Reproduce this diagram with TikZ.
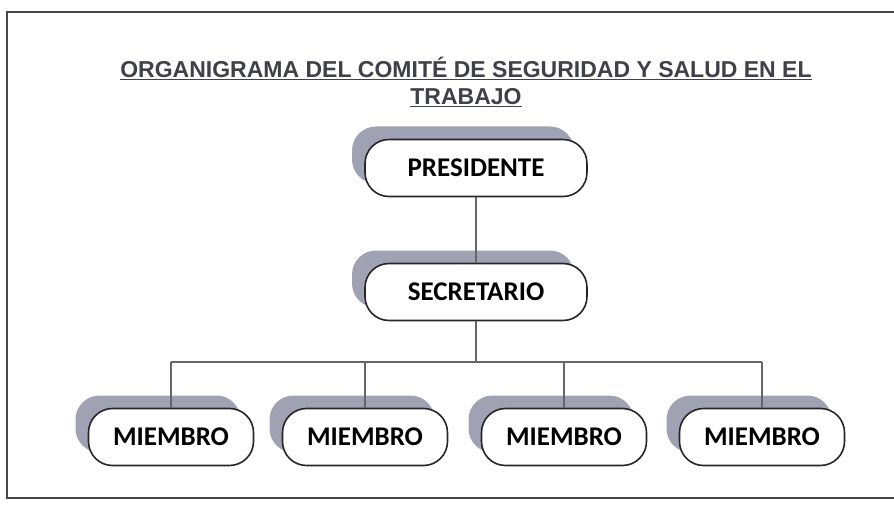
\documentclass[tikz,border=0pt]{standalone}
\usepackage{fontspec}
\setmainfont{Liberation Sans}
\newfontfamily\boxfont{Carlito}
\usetikzlibrary{shadows}
\definecolor{shadegray}{RGB}{160,162,180}
\definecolor{titlegray}{RGB}{64,64,72}
\definecolor{framegray}{RGB}{70,70,75}
\tikzset{
  orgbox/.style={draw=black!85, line width=1.6pt, fill=white, rounded corners=24pt,
    minimum height=57pt, minimum width=165pt, inner sep=0pt,
    font=\boxfont\fontsize{27}{30}\selectfont\bfseries,
    drop shadow={shadow xshift=-13pt, shadow yshift=13pt, fill=shadegray, opacity=1}},
  link/.style={draw=black!60, line width=1.2pt}
}
\begin{document}
\begin{tikzpicture}[x=1pt,y=-1pt]
\useasboundingbox (0,0) rectangle (894,508);
% marco
\draw[framegray, line width=1.2pt] (894,12) -- (7,12) -- (7,498) -- (894,498);

% titulo
\node[font=\fontsize{23}{26}\selectfont\bfseries, text=titlegray] (t1) at (466,68)
  {\underline{ORGANIGRAMA DEL COMITÉ DE SEGURIDAD Y SALUD EN EL}};
\node[font=\fontsize{23}{26}\selectfont\bfseries, text=titlegray] (t2) at (466,98)
  {\underline{TRABAJO}};

\node[orgbox, minimum width=222pt] (pres) at (476,168) {PRESIDENTE};
\node[orgbox, minimum width=222pt] (sec) at (476,292) {SECRETARIO};

\node[orgbox] (m1) at (171,437) {MIEMBRO};
\node[orgbox] (m2) at (365,437) {MIEMBRO};
\node[orgbox] (m3) at (564,437) {MIEMBRO};
\node[orgbox] (m4) at (762,437) {MIEMBRO};

\coordinate (j) at (476,362);

\path[link] (pres) -- (sec);
\path[link] (sec) -- (j);
\path[link] (m1 |- j) -- (m4 |- j);
\path[link] (m1 |- j) -- (m1);
\path[link] (m2 |- j) -- (m2);
\path[link] (m3 |- j) -- (m3);
\path[link] (m4 |- j) -- (m4);
\end{tikzpicture}
\end{document}
